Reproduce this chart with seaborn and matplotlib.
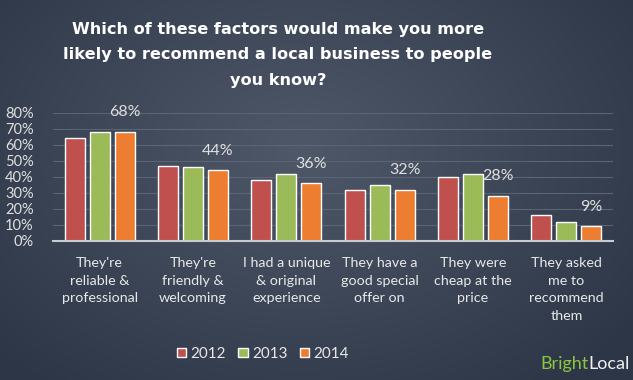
import numpy as np
import pandas as pd
import matplotlib.pyplot as plt
import seaborn as sns

# values (percent)
categories = ["They're\nreliable &\nprofessional", "They're\nfriendly &\nwelcoming",
              "I had a unique\n& original\nexperience", "They have a\ngood special\noffer on",
              "They were\ncheap at the\nprice", "They asked\nme to\nrecommend\nthem"]
years = ["2012", "2013", "2014"]
y2012 = [64, 47, 38, 32, 40, 16]
y2013 = [68, 46, 42, 35, 42, 12]
y2014 = [68, 44, 36, 32, 28, 9]
yticks = [0, 10, 20, 30, 40, 50, 60, 70, 80]
colors = ["#c0504d", "#9bbb59", "#ed7d31"]

df = pd.DataFrame({
    "factor": categories * 3,
    "year": [y for y in years for _ in categories],
    "pct": y2012 + y2013 + y2014,
})

sns.set_style("white")
plt.rcParams['font.family'] = ['Lato', 'DejaVu Sans']

fig = plt.figure(figsize=(6.33, 3.8), dpi=100)

# radial background, lighter near the top middle
bg = fig.add_axes([0, 0, 1, 1], zorder=-10)
yy, xx = np.mgrid[0:380, 0:633]
r = np.sqrt(((xx - 300) / 420.0) ** 2 + ((yy - 150) / 300.0) ** 2)
r = np.clip(r, 0, 1)
c0 = np.array([0x4e, 0x58, 0x68]) / 255.0
c1 = np.array([0x2c, 0x36, 0x47]) / 255.0
img = c0[None, None, :] * (1 - r[..., None]) + c1[None, None, :] * r[..., None]
bg.imshow(img, aspect='auto')
bg.axis('off')

ax = fig.add_axes([53 / 633, 1 - 240.7 / 380, 560 / 633, 128 / 380])
ax.set_facecolor('none')
sns.barplot(data=df, x="factor", y="pct", hue="year", palette=colors,
            width=0.8, gap=0.2, saturation=1, ax=ax, zorder=3)

ax.set_ylim(0, 80)
ax.set_xlim(-0.5, len(categories) - 0.5)
ax.set_yticks(yticks)
ax.set_yticklabels([f"{t}%" for t in yticks], color="#e0e0e0", fontsize=10.5)
ax.tick_params(axis='y', length=0, pad=14)
ax.tick_params(axis='x', length=0, pad=12)
ax.set_xticks(range(len(categories)))
ax.set_xticklabels(categories, color="#e8e8e8", fontsize=10.3, linespacing=1.55, va='top')
ax.set_xlabel("")
ax.set_ylabel("")
for t in yticks[1:]:
    ax.axhline(t, color="#5a6475", lw=0.8, zorder=1)
for s in ['top', 'right', 'left']:
    ax.spines[s].set_visible(False)
ax.spines['bottom'].set_color("#c8ccd2")
ax.spines['bottom'].set_linewidth(1.5)
ax.spines['bottom'].set_zorder(4)

ax.bar_label(ax.containers[2], labels=[f"{v}%" for v in y2014], padding=9,
             color="#e0e0e0", fontsize=11.5)

ax.legend(loc='center', bbox_to_anchor=(263 / 633, 26 / 380), bbox_transform=fig.transFigure,
          ncol=3, frameon=False, handlelength=0.6, handleheight=0.6, handletextpad=0.3,
          columnspacing=0.8, labelcolor="#e8e8e8", fontsize=11)

fig.text(278 / 633, 1 - 55 / 380, "Which of these factors would make you more\n"
         "likely to recommend a local business to people\nyou know?",
         ha='center', va='center', color='white', fontsize=11.6, fontweight='bold',
         linespacing=1.9, family=['DejaVu Sans'])

# logo: "Local" right-aligned, "Bright" placed just left of it
local = fig.text(630 / 633, 1 - 364 / 380, "Local", color="#f0f0f0", fontsize=13,
                 va='center', ha='right')
fig.canvas.draw()
bb = local.get_window_extent()
fig.text(bb.x0 / 633, 1 - 364 / 380, "Bright", color="#8dc63f", fontsize=13,
         va='center', ha='right')

fig.savefig("out.png", dpi=100)
